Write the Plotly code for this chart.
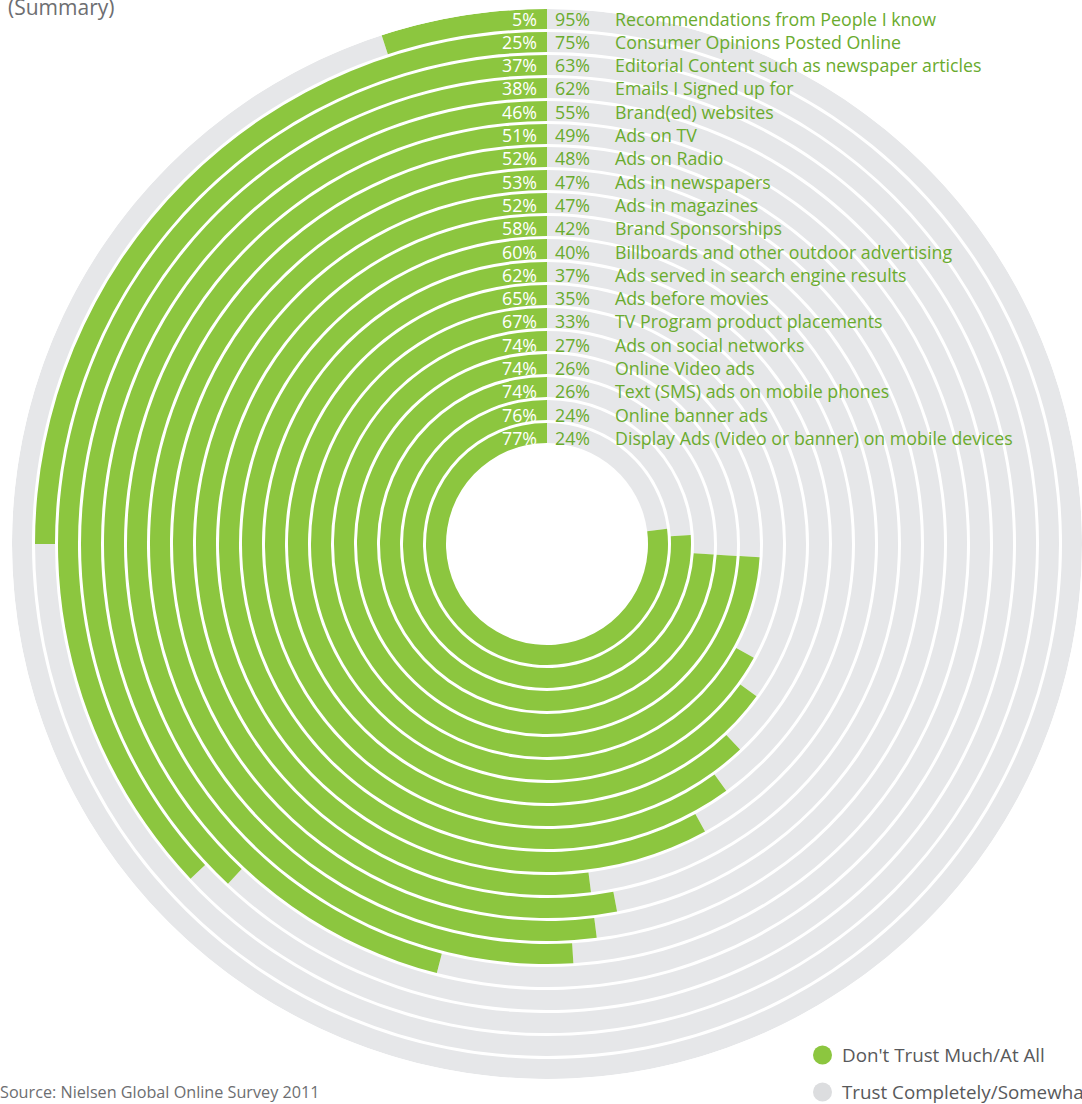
import plotly.graph_objects as go

categories = [
    "Recommendations from People I know",
    "Consumer Opinions Posted Online",
    "Editorial Content such as newspaper articles",
    "Emails I Signed up for",
    "Brand(ed) websites",
    "Ads on TV",
    "Ads on Radio",
    "Ads in newspapers",
    "Ads in magazines",
    "Brand Sponsorships",
    "Billboards and other outdoor advertising",
    "Ads served in search engine results",
    "Ads before movies",
    "TV Program product placements",
    "Ads on social networks",
    "Online Video ads",
    "Text (SMS) ads on mobile phones",
    "Online banner ads",
    "Display Ads (Video or banner) on mobile devices",
]
dont_trust = [5, 25, 37, 38, 46, 51, 52, 53, 52, 58, 60, 62, 65, 67, 74, 74, 74, 76, 77]
trust = [95, 75, 63, 62, 55, 49, 48, 47, 47, 42, 40, 37, 35, 33, 27, 26, 26, 24, 24]

GREEN = "#8cc63f"
GRAY = "#e6e7e9"
TEXT_GREEN = "#6aab2e"
TEXT_GRAY = "#6d6e71"
FONT = "Open Sans"

W, H = 1082, 1104
CX, CY = 547, 544          # pixel centre of the rings
R_OUT = 535                # outer radius (px)
BAND = 20
PITCH = 23

n = len(categories)
inner = [R_OUT - BAND - PITCH * i for i in range(n)]

fig = go.Figure()

# grey remainder of each ring
fig.add_trace(go.Barpolar(
    r=[BAND] * n,
    base=inner,
    theta=[d * 3.6 + (100 - d) * 1.8 for d in dont_trust],
    width=[(100 - d) * 3.6 for d in dont_trust],
    marker=dict(color=GRAY, line=dict(width=0)),
    name="Trust Completely/Somewhat",
    showlegend=False,
    hoverinfo="skip",
))
# green "don't trust" arcs
fig.add_trace(go.Barpolar(
    r=[BAND] * n,
    base=inner,
    theta=[d * 1.8 for d in dont_trust],
    width=[d * 3.6 for d in dont_trust],
    marker=dict(color=GREEN, line=dict(width=0)),
    name="Don't Trust Much/At All",
    showlegend=False,
    hoverinfo="skip",
))

def px(x):
    return x / W

def py(y):
    return 1 - y / H

LABEL_SIZE = 17.8
annotations = []
for i, (cat, d, t) in enumerate(zip(categories, dont_trust, trust)):
    y = 18.5 + 23.3 * i
    annotations.append(dict(x=px(539), y=py(y), xref="paper", yref="paper",
                            text=f"{d}%", showarrow=False, xanchor="right", yanchor="middle",
                            font=dict(family=FONT, size=LABEL_SIZE, color="white")))
    annotations.append(dict(x=px(553), y=py(y), xref="paper", yref="paper",
                            text=f"{t}%", showarrow=False, xanchor="left", yanchor="middle",
                            font=dict(family=FONT, size=LABEL_SIZE, color=TEXT_GREEN)))
    annotations.append(dict(x=px(613), y=py(y), xref="paper", yref="paper",
                            text=cat, showarrow=False, xanchor="left", yanchor="middle",
                            font=dict(family=FONT, size=LABEL_SIZE, color=TEXT_GREEN)))

annotations.append(dict(x=px(6), y=py(7), xref="paper", yref="paper",
                        text="(Summary)", showarrow=False, xanchor="left", yanchor="middle",
                        font=dict(family=FONT, size=21, color=TEXT_GRAY)))
annotations.append(dict(x=px(-2), y=py(1092), xref="paper", yref="paper",
                        text="Source: Nielsen Global Online Survey 2011", showarrow=False,
                        xanchor="left", yanchor="middle",
                        font=dict(family=FONT, size=16.2, color=TEXT_GRAY)))

legend_items = [("Don't Trust Much/At All", GREEN, 1055), ("Trust Completely/Somewhat", "#dcdddf", 1092)]
shapes = []
for label, col, y in legend_items:
    shapes.append(dict(type="circle", xref="paper", yref="paper",
                       x0=px(813), x1=px(832), y0=py(y - 9.5), y1=py(y + 9.5),
                       fillcolor=col, line=dict(width=0)))
    annotations.append(dict(x=px(840), y=py(y), xref="paper", yref="paper",
                            text=label, showarrow=False, xanchor="left", yanchor="middle",
                            font=dict(family=FONT, size=18.8, color="#58595b")))

fig.update_layout(
    width=W, height=H,
    margin=dict(l=0, r=0, t=0, b=0),
    paper_bgcolor="white",
    plot_bgcolor="white",
    polar=dict(
        domain=dict(x=[(CX - R_OUT) / W, 1.0], y=[(H - CY - R_OUT) / H, (H - CY + R_OUT) / H]),
        bgcolor="white",
        barmode="overlay",
        radialaxis=dict(range=[0, R_OUT], visible=False, showgrid=False),
        angularaxis=dict(rotation=90, direction="counterclockwise", visible=False,
                         showgrid=False, showline=False, showticklabels=False, ticks=""),
    ),
    annotations=annotations,
    shapes=shapes,
    showlegend=False,
)

fig.write_html("out.html")
